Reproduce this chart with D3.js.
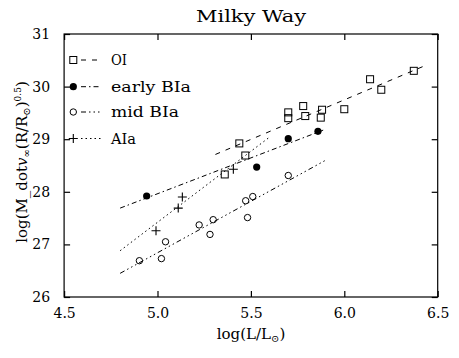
<!DOCTYPE html>
<html><head><meta charset="utf-8">
<script src="https://cdn.jsdelivr.net/npm/d3@7"></script>
<style>body{margin:0;background:#fff}svg{display:block}text{font-family:"DejaVu Serif","Liberation Serif",serif;fill:#000}</style>
</head><body>
<script>
const xTicks = [4.5, 5.0, 5.5, 6.0, 6.5];
const yTicks = [26, 27, 28, 29, 30, 31];
const oiX = [5.360, 5.438, 5.470, 5.700, 5.700, 5.780, 5.791, 5.881, 5.874, 6.000, 6.138, 6.198, 6.372];
const oiY = [28.33, 28.92, 28.69, 29.51, 29.40, 29.63, 29.44, 29.56, 29.41, 29.57, 30.14, 29.94, 30.30];
const earlyX = [4.942, 5.531, 5.700, 5.859];
const earlyY = [27.92, 28.47, 29.01, 29.15];
const midX = [4.903, 5.021, 5.043, 5.223, 5.281, 5.298, 5.472, 5.510, 5.482, 5.700];
const midY = [26.69, 26.73, 27.05, 27.37, 27.19, 27.47, 27.83, 27.91, 27.51, 28.31];
const aiaX = [4.992, 5.111, 5.133, 5.406];
const aiaY = [27.26, 27.69, 27.90, 28.43];
// fitted lines: [x0, y0, x1, y1]
const oiFit = [5.31, 28.71, 6.44, 30.41];
const earlyFit = [4.80, 27.69, 5.90, 29.19];
const midFit = [4.80, 26.45, 5.90, 28.60];
const aiaFit = [4.80, 26.88, 5.60, 29.04];
const legendLabels = ["OI", "early BIa", "mid BIa", "AIa"];

const W = 459, H = 358;
const svg = d3.select("body").append("svg").attr("width", W).attr("height", H);
const x = d3.scaleLinear().domain([4.5, 6.5]).range([64.1, 437.7]);
const y = d3.scaleLinear().domain([26, 31]).range([297, 34]);

// frame
svg.append("rect").attr("x", x(4.5)).attr("y", y(31)).attr("width", x(6.5) - x(4.5)).attr("height", y(26) - y(31))
  .attr("fill", "none").attr("stroke", "#000").attr("stroke-width", 1.2);

const tl = 6;
const fmt = d3.format(".1f");
const axB = svg.append("g").attr("transform", `translate(0,${y(26)})`)
  .call(d3.axisBottom(x).tickValues(xTicks).tickSize(-tl).tickPadding(11).tickFormat(fmt));
const axT = svg.append("g").attr("transform", `translate(0,${y(31)})`)
  .call(d3.axisTop(x).tickValues(xTicks).tickSize(-tl).tickFormat(""));
const axL = svg.append("g").attr("transform", `translate(${x(4.5)},0)`)
  .call(d3.axisLeft(y).tickValues(yTicks).tickSize(-tl).tickPadding(14).tickFormat(d3.format("d")));
const axR = svg.append("g").attr("transform", `translate(${x(6.5)},0)`)
  .call(d3.axisRight(y).tickValues(yTicks).tickSize(-tl).tickFormat(""));
[axB, axT, axL, axR].forEach(a => {
  a.select(".domain").remove();
  a.selectAll("line").attr("stroke", "#000").attr("stroke-width", 1.2);
  a.selectAll("text").attr("font-family", "DejaVu Serif").attr("font-size", 14).attr("fill", "#000");
});

// fitted lines
const fits = [
  {f: oiFit, dash: "5,6"},
  {f: earlyFit, dash: "5,3,1.5,3"},
  {f: midFit, dash: "5,3,1.5,3,1.5,3,1.5,3"},
  {f: aiaFit, dash: "1.5,3"}
];
fits.forEach(d => {
  svg.append("line").attr("x1", x(d.f[0])).attr("y1", y(d.f[1])).attr("x2", x(d.f[2])).attr("y2", y(d.f[3]))
    .attr("stroke", "#000").attr("stroke-width", 1).attr("stroke-dasharray", d.dash);
});

function square(g, cx, cy) {
  g.append("rect").attr("x", cx - 3.5).attr("y", cy - 3.5).attr("width", 7).attr("height", 7)
    .attr("fill", "none").attr("stroke", "#000").attr("stroke-width", 1);
}
function filled(g, cx, cy) {
  g.append("circle").attr("cx", cx).attr("cy", cy).attr("r", 3.6).attr("fill", "#000");
}
function open(g, cx, cy) {
  g.append("circle").attr("cx", cx).attr("cy", cy).attr("r", 3.2).attr("fill", "none").attr("stroke", "#000").attr("stroke-width", 1);
}
function plus(g, cx, cy) {
  g.append("path").attr("d", `M${cx - 4.5},${cy}H${cx + 4.5}M${cx},${cy - 4.5}V${cy + 4.5}`)
    .attr("stroke", "#000").attr("stroke-width", 1.1).attr("fill", "none");
}
const pts = svg.append("g");
oiX.forEach((v, i) => square(pts, x(v), y(oiY[i])));
earlyX.forEach((v, i) => filled(pts, x(v), y(earlyY[i])));
midX.forEach((v, i) => open(pts, x(v), y(midY[i])));
aiaX.forEach((v, i) => plus(pts, x(v), y(aiaY[i])));

// legend
const lg = svg.append("g");
const markers = [square, filled, open, plus];
const rowsY = [60, 86.7, 112, 138.5];
const legendW = [16, 80, 68, 25];
legendLabels.forEach((t, i) => {
  const ry = rowsY[i];
  markers[i](lg, 73.3, ry);
  lg.append("line").attr("x1", 81).attr("x2", 101).attr("y1", ry).attr("y2", ry)
    .attr("stroke", "#000").attr("stroke-dasharray", fits[i].dash);
  lg.append("text").attr("x", 111).attr("y", ry + 5).attr("font-size", 15)
    .attr("textLength", legendW[i]).attr("lengthAdjust", "spacingAndGlyphs").text(t);
});

// title
svg.append("text").attr("x", 251).attr("y", 22).attr("text-anchor", "middle").attr("font-size", 16)
  .attr("textLength", 110).attr("lengthAdjust", "spacingAndGlyphs").text("Milky Way");

// x label
const xl = svg.append("text").attr("x", 251).attr("y", 339).attr("text-anchor", "middle").attr("font-size", 15);
xl.append("tspan").text("log(L/L");
xl.append("tspan").attr("font-size", 10).attr("dy", 3).text("⊙");
xl.append("tspan").attr("dy", -3).text(")");

// y label
const yl = svg.append("text").attr("transform", "translate(27,162) rotate(-90)").attr("text-anchor", "middle").attr("font-size", 15);
yl.append("tspan").text("log(M_dot");
yl.append("tspan").attr("font-style", "italic").text("v");
yl.append("tspan").attr("font-size", 10).attr("dy", 3).text("∞");
yl.append("tspan").attr("dy", -3).text("(R/R");
yl.append("tspan").attr("font-size", 10).attr("dy", 3).text("⊙");
yl.append("tspan").attr("dy", -3).text(")");
yl.append("tspan").attr("font-size", 9).attr("dy", -6).text("0.5");
yl.append("tspan").attr("dy", 6).text(")");
</script>
</body></html>
